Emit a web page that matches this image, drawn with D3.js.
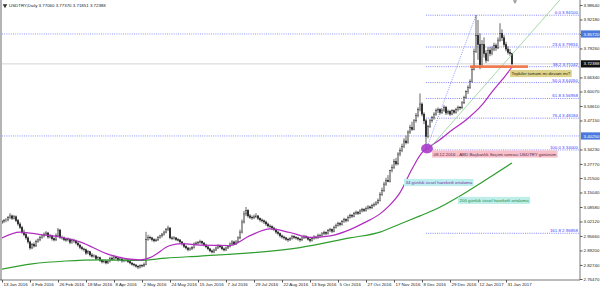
<!DOCTYPE html>
<html>
<head>
<meta charset="utf-8">
<script src="https://cdn.jsdelivr.net/npm/d3@7"></script>
<style>
  body { margin: 0; background: #fff; }
  svg { display: block; font-family: "Liberation Sans", Arial, sans-serif; }
</style>
</head>
<body>
<svg id="chart" width="600" height="292"></svg>
<script>
// Daily bars [open, high, low, close], one bar per 2px
const barsJanMar = [
  [3.015,3.028,3.010,3.020],[3.020,3.032,3.014,3.025],[3.025,3.036,3.018,3.028],[3.028,3.046,3.022,3.038],
  [3.038,3.058,3.032,3.046],[3.046,3.052,3.028,3.035],[3.035,3.050,3.030,3.042],[3.042,3.048,3.018,3.025],
  [3.025,3.032,3.002,3.010],[3.010,3.018,2.988,2.995],[2.995,3.002,2.966,2.974],[2.974,2.985,2.955,2.962],
  [2.962,2.970,2.940,2.948],[2.948,2.955,2.922,2.930],[2.930,2.936,2.895,2.903],[2.903,2.925,2.898,2.918],
  [2.918,2.928,2.905,2.912],[2.912,2.940,2.908,2.932],[2.932,2.946,2.926,2.939],[2.939,2.958,2.933,2.950],
  [2.950,2.964,2.944,2.957],[2.957,2.972,2.950,2.965],[2.965,2.978,2.958,2.970],[2.970,2.975,2.945,2.952],
  [2.952,2.966,2.946,2.958],[2.958,2.962,2.936,2.944],[2.944,2.950,2.932,2.939],[2.939,2.968,2.934,2.960],
  [2.960,2.992,2.955,2.983],[2.983,2.988,2.944,2.950],[2.950,2.958,2.940,2.948],[2.948,2.954,2.933,2.940],
  [2.940,2.948,2.931,2.939],[2.939,2.950,2.932,2.942],[2.942,2.947,2.920,2.928],[2.928,2.945,2.922,2.938],
  [2.938,2.944,2.926,2.934],[2.934,2.940,2.918,2.925],[2.925,2.930,2.909,2.916],[2.916,2.922,2.898,2.905],
  [2.905,2.912,2.892,2.899],[2.899,2.904,2.887,2.895],[2.895,2.900,2.872,2.880],[2.880,2.894,2.875,2.886],
  [2.886,2.890,2.865,2.872],[2.872,2.880,2.860,2.866],[2.866,2.875,2.860,2.868],[2.868,2.872,2.848,2.855],
  [2.855,2.866,2.850,2.860],[2.860,2.864,2.842,2.848]
];
const barsAprJun = [
  [2.848,2.852,2.834,2.841],[2.841,2.850,2.835,2.845],[2.845,2.849,2.830,2.836],[2.836,2.848,2.832,2.842],
  [2.842,2.864,2.838,2.858],[2.858,2.866,2.846,2.852],[2.852,2.870,2.848,2.863],[2.863,2.868,2.852,2.858],
  [2.858,2.862,2.843,2.850],[2.850,2.860,2.845,2.854],[2.854,2.858,2.838,2.845],[2.845,2.853,2.840,2.848],
  [2.848,2.856,2.842,2.850],[2.850,2.854,2.836,2.842],[2.842,2.846,2.830,2.836],[2.836,2.840,2.824,2.830],
  [2.830,2.836,2.820,2.827],[2.827,2.832,2.815,2.822],[2.822,2.826,2.809,2.818],[2.818,2.830,2.812,2.825],
  [2.825,2.830,2.816,2.823],[2.823,2.838,2.818,2.830],[2.830,2.975,2.826,2.940],[2.940,2.962,2.935,2.950],
  [2.950,2.958,2.940,2.948],[2.948,2.953,2.932,2.940],[2.940,2.946,2.928,2.935],[2.935,2.945,2.930,2.939],
  [2.939,2.956,2.934,2.950],[2.950,2.962,2.944,2.957],[2.957,2.970,2.950,2.965],[2.965,2.980,2.958,2.974],
  [2.974,2.992,2.968,2.985],[2.985,3.002,2.978,2.992],[2.992,2.996,2.942,2.948],[2.948,2.955,2.938,2.945],
  [2.945,2.956,2.940,2.948],[2.948,2.952,2.934,2.940],[2.940,2.947,2.932,2.939],[2.939,2.942,2.924,2.930],
  [2.930,2.934,2.914,2.921],[2.921,2.926,2.903,2.910],[2.910,2.915,2.896,2.903],[2.903,2.908,2.888,2.895],
  [2.895,2.906,2.890,2.899],[2.899,2.912,2.894,2.905],[2.905,2.928,2.900,2.921],[2.921,2.932,2.915,2.925],
  [2.925,2.934,2.918,2.928],[2.928,2.940,2.922,2.932]
];
const barsJunSep = [
  [2.932,2.936,2.918,2.925],[2.925,2.930,2.910,2.916],[2.916,2.922,2.902,2.908],[2.908,2.912,2.893,2.899],
  [2.899,2.904,2.884,2.890],[2.890,2.896,2.879,2.885],[2.885,2.900,2.880,2.894],[2.894,2.910,2.889,2.903],
  [2.903,2.920,2.898,2.912],[2.912,2.918,2.902,2.908],[2.908,2.913,2.893,2.899],[2.899,2.905,2.888,2.894],
  [2.894,2.910,2.890,2.903],[2.903,2.916,2.898,2.910],[2.910,2.928,2.905,2.921],[2.921,2.938,2.915,2.930],
  [2.930,2.935,2.915,2.921],[2.921,2.938,2.916,2.930],[2.930,2.955,2.925,2.948],[2.948,2.985,2.942,2.974],
  [2.974,3.030,2.968,3.019],[3.019,3.068,3.012,3.055],[3.055,3.086,3.045,3.070],[3.070,3.076,3.038,3.046],
  [3.046,3.054,3.032,3.040],[3.040,3.048,3.028,3.037],[3.037,3.052,3.032,3.042],[3.042,3.058,3.036,3.046],
  [3.046,3.050,3.028,3.035],[3.035,3.040,3.020,3.028],[3.028,3.034,3.016,3.024],[3.024,3.030,3.010,3.019],
  [3.019,3.025,3.002,3.010],[3.010,3.016,2.994,3.001],[3.001,3.008,2.990,2.998],[2.998,3.004,2.984,2.992],
  [2.992,2.998,2.978,2.985],[2.985,2.990,2.966,2.974],[2.974,2.980,2.960,2.968],[2.968,2.972,2.950,2.957],
  [2.957,2.963,2.945,2.952],[2.952,2.958,2.940,2.948],[2.948,2.953,2.935,2.942],[2.942,2.948,2.930,2.939],
  [2.939,2.952,2.934,2.945],[2.945,2.962,2.940,2.955],[2.955,2.960,2.944,2.950],[2.950,2.956,2.940,2.948],
  [2.948,2.952,2.936,2.943],[2.943,2.948,2.930,2.939]
];
const barsSepNov = [
  [2.939,2.955,2.934,2.948],[2.948,2.962,2.943,2.955],[2.955,2.960,2.944,2.950],[2.950,2.955,2.936,2.942],
  [2.942,2.947,2.928,2.936],[2.936,2.952,2.931,2.945],[2.945,2.960,2.940,2.952],[2.952,2.957,2.942,2.948],
  [2.948,2.967,2.944,2.960],[2.960,2.966,2.950,2.958],[2.958,2.974,2.953,2.966],[2.966,2.980,2.960,2.972],
  [2.972,2.977,2.960,2.968],[2.968,2.988,2.963,2.980],[2.980,2.993,2.974,2.985],[2.985,2.990,2.970,2.978],
  [2.978,3.003,2.973,2.995],[2.995,3.012,2.990,3.004],[3.004,3.020,2.998,3.012],[3.012,3.018,3.000,3.008],
  [3.008,3.028,3.003,3.020],[3.020,3.038,3.015,3.030],[3.030,3.035,3.017,3.025],[3.025,3.048,3.020,3.040],
  [3.040,3.056,3.034,3.048],[3.048,3.054,3.037,3.045],[3.045,3.064,3.040,3.056],[3.056,3.070,3.050,3.062],
  [3.062,3.068,3.050,3.058],[3.058,3.076,3.053,3.068],[3.068,3.082,3.062,3.074],[3.074,3.080,3.063,3.070],
  [3.070,3.088,3.065,3.080],[3.080,3.094,3.074,3.086],[3.086,3.092,3.075,3.082],[3.082,3.100,3.077,3.092],
  [3.092,3.106,3.086,3.098],[3.098,3.112,3.092,3.104],[3.104,3.124,3.098,3.115],[3.115,3.152,3.110,3.142],
  [3.142,3.172,3.135,3.160],[3.160,3.198,3.152,3.188],[3.188,3.216,3.180,3.205],[3.205,3.228,3.196,3.200],
  [3.200,3.252,3.195,3.248],[3.248,3.275,3.240,3.262],[3.262,3.300,3.255,3.288],[3.288,3.305,3.270,3.278],
  [3.278,3.330,3.272,3.322],[3.322,3.350,3.312,3.338]
];
const barsNovFeb = [
  [3.338,3.368,3.330,3.355],[3.355,3.392,3.348,3.380],[3.380,3.405,3.365,3.372],[3.372,3.428,3.368,3.420],
  [3.420,3.452,3.412,3.440],[3.440,3.466,3.425,3.432],[3.432,3.478,3.428,3.470],[3.470,3.505,3.462,3.495],
  [3.495,3.530,3.485,3.520],[3.520,3.592,3.512,3.545],[3.545,3.552,3.490,3.500],[3.500,3.508,3.455,3.470],
  [3.470,3.478,3.340,3.400],[3.400,3.452,3.392,3.445],[3.445,3.478,3.438,3.470],[3.470,3.492,3.462,3.485],
  [3.485,3.508,3.475,3.500],[3.500,3.525,3.492,3.515],[3.515,3.530,3.505,3.520],[3.520,3.526,3.498,3.508],
  [3.508,3.525,3.500,3.518],[3.518,3.540,3.510,3.530],[3.530,3.536,3.496,3.505],[3.505,3.520,3.498,3.512],
  [3.512,3.518,3.492,3.500],[3.500,3.522,3.495,3.515],[3.515,3.520,3.500,3.508],[3.508,3.528,3.502,3.520],
  [3.520,3.538,3.512,3.530],[3.530,3.536,3.518,3.528],[3.528,3.558,3.522,3.550],[3.550,3.582,3.545,3.575],
  [3.575,3.606,3.568,3.600],[3.600,3.628,3.590,3.620],[3.620,3.655,3.612,3.645],[3.645,3.712,3.640,3.700],
  [3.700,3.792,3.695,3.780],[3.780,3.941,3.772,3.850],[3.850,3.920,3.742,3.810],[3.810,3.860,3.700,3.720],
  [3.720,3.830,3.715,3.810],[3.810,3.842,3.752,3.770],[3.770,3.785,3.728,3.740],[3.740,3.798,3.735,3.785],
  [3.785,3.800,3.758,3.770],[3.770,3.802,3.762,3.790],[3.790,3.818,3.780,3.805],[3.805,3.815,3.782,3.795],
  [3.795,3.842,3.790,3.830],[3.830,3.905,3.822,3.860],[3.860,3.878,3.826,3.840],[3.840,3.852,3.800,3.810],
  [3.810,3.822,3.780,3.790],[3.790,3.802,3.766,3.775],[3.775,3.790,3.760,3.7706],[3.7706,3.7737,3.71851,3.72388]
];

// moving averages: [bar index, value]
const ema34 = [[0,2.948],[9,2.974],[20,2.962],[29,2.952],[39,2.930],[54,2.872],[69,2.850],[74,2.860],
  [84,2.914],[90,2.922],[99,2.916],[114,2.914],[124,2.958],[134,2.988],[144,2.972],[154,2.950],[164,2.957],
  [174,2.985],[181,3.015],[189,3.055],[194,3.095],[199,3.150],[205,3.255],[210,3.328],[213,3.350],
  [218,3.380],[225,3.429],[232,3.474],[240,3.541],[245,3.599],[250,3.652],[255,3.710]];
const ema200 = [[0,2.809],[15,2.832],[32,2.845],[49,2.850],[69,2.848],[82,2.858],[99,2.867],[124,2.881],
  [149,2.905],[174,2.948],[189,2.974],[199,3.010],[209,3.046],[216,3.072],[229,3.135],[241,3.202],[255,3.282]];

// fibonacci retracement from the 3.34000 low to the 3.94100 high
const fibLevels = ["0.0","23.6","38.2","50.0","61.8","76.4","100.0","161.8"];
const fibValues = [3.94100,3.79916,3.71142,3.64050,3.56958,3.48184,3.34000,2.96858];
const fibAnchor = [[212,3.34],[237,3.941]];
const trendLine = [[213,3.34],[282,4.04]];

const hLines = [3.85720, 3.40250];
const lastPrice = 3.72388;

const yTicks = [3.98640,3.92180,3.85720,3.79260,3.66340,3.60070,3.53610,3.47150,3.34230,
  3.27770,3.21500,3.15040,3.08580,3.02120,2.95660,2.89200,2.82740,2.76470];
const dateTickIdx = [0,14,28,42,56,70,84,98,112,126,140,154,168,182,196,210,224,238,252];
const dateLabels = ["13 Jan 2016","4 Feb 2016","26 Feb 2016","18 Mar 2016","8 Apr 2016","2 May 2016",
  "24 May 2016","15 Jun 2016","7 Jul 2016","29 Jul 2016","22 Aug 2016","13 Sep 2016","5 Oct 2016",
  "27 Oct 2016","17 Nov 2016","8 Dec 2016","29 Dec 2016","12 Jan 2017","31 Jan 2017"];

// notes on the chart: [bar index, value, text, background, colour]
const notes = [
  [215, 3.338, "08.12.2016 - ABD Başkanlık Seçimi sonrası USDTRY görünüm", "#f7c0cb", "#5b2838"],
  [201, 3.211, "34 günlük üssel hareketli ortalama", "#bfeef0", "#7a2ea0"],
  [228, 3.131, "200 günlük üssel hareketli ortalama", "#bfeee8", "#1f8a3a"],
  [254, 3.697, "Tepkiler tamam mı devam mı?", "#ddd38c", "#2a2a10"]
];

const svg = d3.select("#chart");
const plot = { left: 2, right: 580, top: 0, bottom: 280 };
const fs = 4.4;

const x = d3.scaleLinear().domain([0, 255]).range([2, 512]);
const y = d3.scaleLinear().domain([2.7647, 3.9864]).range([279, 5]);

const candles = [...barsJanMar, ...barsAprJun, ...barsJunSep, ...barsSepNov, ...barsNovFeb]
  .map(([o, h, l, c], i) => ({ i, o, h, l, c }));

svg.append("defs").append("clipPath").attr("id", "clip")
  .append("rect").attr("x", plot.left).attr("y", plot.top)
  .attr("width", plot.right - plot.left).attr("height", plot.bottom - plot.top);

// window border on the left
svg.append("rect").attr("x", 0).attr("y", 0).attr("width", 2).attr("height", plot.bottom)
  .attr("fill", "#b4b4b4");

const g = svg.append("g").attr("clip-path", "url(#clip)");

// full width lines
g.append("line").attr("x1", plot.left).attr("x2", plot.right)
  .attr("y1", y(lastPrice)).attr("y2", y(lastPrice))
  .attr("stroke", "#c8c8c8").attr("stroke-width", 0.8);
g.selectAll("line.hl").data(hLines).join("line").attr("class", "hl")
  .attr("x1", plot.left).attr("x2", plot.right)
  .attr("y1", d => y(d)).attr("y2", d => y(d))
  .attr("stroke", "#5a6cff").attr("stroke-width", 0.7).attr("stroke-dasharray", "1,1.2");

// fibonacci levels
g.selectAll("line.fib").data(fibValues).join("line").attr("class", "fib")
  .attr("x1", x(fibAnchor[0][0])).attr("x2", plot.right)
  .attr("y1", d => y(d)).attr("y2", d => y(d))
  .attr("stroke", "#5050ff").attr("stroke-width", 0.7).attr("stroke-dasharray", "1,1.2");
g.append("line")
  .attr("x1", x(fibAnchor[0][0])).attr("y1", y(fibAnchor[0][1]))
  .attr("x2", x(fibAnchor[1][0])).attr("y2", y(fibAnchor[1][1]))
  .attr("stroke", "#6070ff").attr("stroke-width", 0.7).attr("stroke-dasharray", "1,1.2");

// candles
g.selectAll("line.wick").data(candles).join("line").attr("class", "wick")
  .attr("x1", d => x(d.i)).attr("x2", d => x(d.i))
  .attr("y1", d => y(d.h)).attr("y2", d => y(d.l))
  .attr("stroke", "#222").attr("stroke-width", 0.7);
g.selectAll("rect.body").data(candles).join("rect").attr("class", "body")
  .attr("x", d => x(d.i) - 0.8).attr("width", 1.6)
  .attr("y", d => y(Math.max(d.o, d.c)))
  .attr("height", d => Math.max(0.5, Math.abs(y(d.o) - y(d.c))))
  .attr("fill", d => d.c >= d.o ? "#fff" : "#222")
  .attr("stroke", "#222").attr("stroke-width", 0.4);

// moving averages
const line = d3.line().x(d => x(d[0])).y(d => y(d[1])).curve(d3.curveMonotoneX);
g.append("path").datum(ema200).attr("d", line)
  .attr("fill", "none").attr("stroke", "#2e9e2e").attr("stroke-width", 1.2);
g.append("path").datum(ema34).attr("d", line)
  .attr("fill", "none").attr("stroke", "#b02cc0").attr("stroke-width", 1.2);

// trend line
g.append("line")
  .attr("x1", x(trendLine[0][0])).attr("y1", y(trendLine[0][1]))
  .attr("x2", x(trendLine[1][0])).attr("y2", y(trendLine[1][1]))
  .attr("stroke", "#8ed08e").attr("stroke-width", 0.8);

// orange support line and the ellipse on the December low
g.append("line").attr("x1", x(234)).attr("x2", x(263))
  .attr("y1", y(fibValues[2])).attr("y2", y(fibValues[2]))
  .attr("stroke", "#f2703e").attr("stroke-width", 2.6).attr("opacity", 0.9);
g.append("ellipse").attr("cx", x(212.5)).attr("cy", y(3.346))
  .attr("rx", 6).attr("ry", 4.8).attr("fill", "#a83ccc").attr("opacity", 0.9);

// fibonacci labels
svg.selectAll("text.fibl").data(fibValues).join("text").attr("class", "fibl")
  .attr("x", 578).attr("y", d => y(d) - 1).attr("text-anchor", "end")
  .attr("font-size", fs).attr("fill", "#3c3cff")
  .text((d, k) => `${fibLevels[k]} ${d.toFixed(5)}`);

// note boxes
notes.forEach(([idx, val, text, bg, col]) => {
  const ng = svg.append("g").attr("transform", `translate(${x(idx)},${y(val)})`);
  const t = ng.append("text").attr("x", 1.5).attr("y", 5.4)
    .attr("font-size", fs).attr("fill", col).text(text);
  const w = t.node().getComputedTextLength();
  ng.insert("rect", "text").attr("x", 0).attr("y", 0)
    .attr("width", w + 3).attr("height", 7.2).attr("fill", bg);
});

// price axis
svg.append("line").attr("x1", plot.right).attr("x2", plot.right)
  .attr("y1", 0).attr("y2", plot.bottom).attr("stroke", "#555").attr("stroke-width", 0.8);
svg.append("g").attr("transform", `translate(${plot.right},0)`)
  .call(d3.axisRight(y).tickValues(yTicks).tickFormat(d3.format(".5f")).tickSize(2.5).tickSizeOuter(0))
  .call(a => a.select(".domain").remove())
  .call(a => a.selectAll("line").attr("stroke", "#555"))
  .call(a => a.selectAll("text").attr("x", 3.5).attr("font-size", fs)
    .attr("font-family", "Liberation Sans, Arial, sans-serif").attr("fill", "#222"));

const tags = [[hLines[0], "#4a78dc"], [lastPrice, "#111"], [hLines[1], "#4a78dc"]];
tags.forEach(([v, bg]) => {
  svg.append("rect").attr("x", plot.right + 1).attr("y", y(v) - 3.6)
    .attr("width", 19).attr("height", 7.2).attr("fill", bg);
  svg.append("text").attr("x", plot.right + 3.5).attr("y", y(v) + 1.6)
    .attr("font-size", fs).attr("fill", "#fff").text(v.toFixed(5));
});

// date axis
svg.append("line").attr("x1", 0).attr("x2", plot.right)
  .attr("y1", plot.bottom).attr("y2", plot.bottom).attr("stroke", "#555").attr("stroke-width", 0.8);
svg.append("g").attr("transform", `translate(0,${plot.bottom})`)
  .call(d3.axisBottom(x).tickValues(dateTickIdx).tickFormat((d, k) => dateLabels[k]).tickSize(2.5).tickSizeOuter(0))
  .call(a => a.select(".domain").remove())
  .call(a => a.selectAll("line").attr("stroke", "#555"))
  .call(a => a.selectAll("text").attr("text-anchor", "start").attr("x", 1).attr("y", 3)
    .attr("font-size", fs).attr("font-family", "Liberation Sans, Arial, sans-serif").attr("fill", "#222"));

// chart shift marker
svg.append("path").attr("d", d3.symbol(d3.symbolTriangle, 8)())
  .attr("transform", `translate(${x(256.5)},1.5) rotate(180)`).attr("fill", "#999");

// title
svg.append("path").attr("d", d3.symbol(d3.symbolTriangle, 9)())
  .attr("transform", "translate(5,5.5) rotate(180)").attr("fill", "#333");
svg.append("text").attr("x", 9).attr("y", 7.2).attr("font-size", fs).attr("fill", "#222")
  .text("USDTRY,Daily  3.77060 3.77370 3.71851 3.72388");
</script>
</body>
</html>
